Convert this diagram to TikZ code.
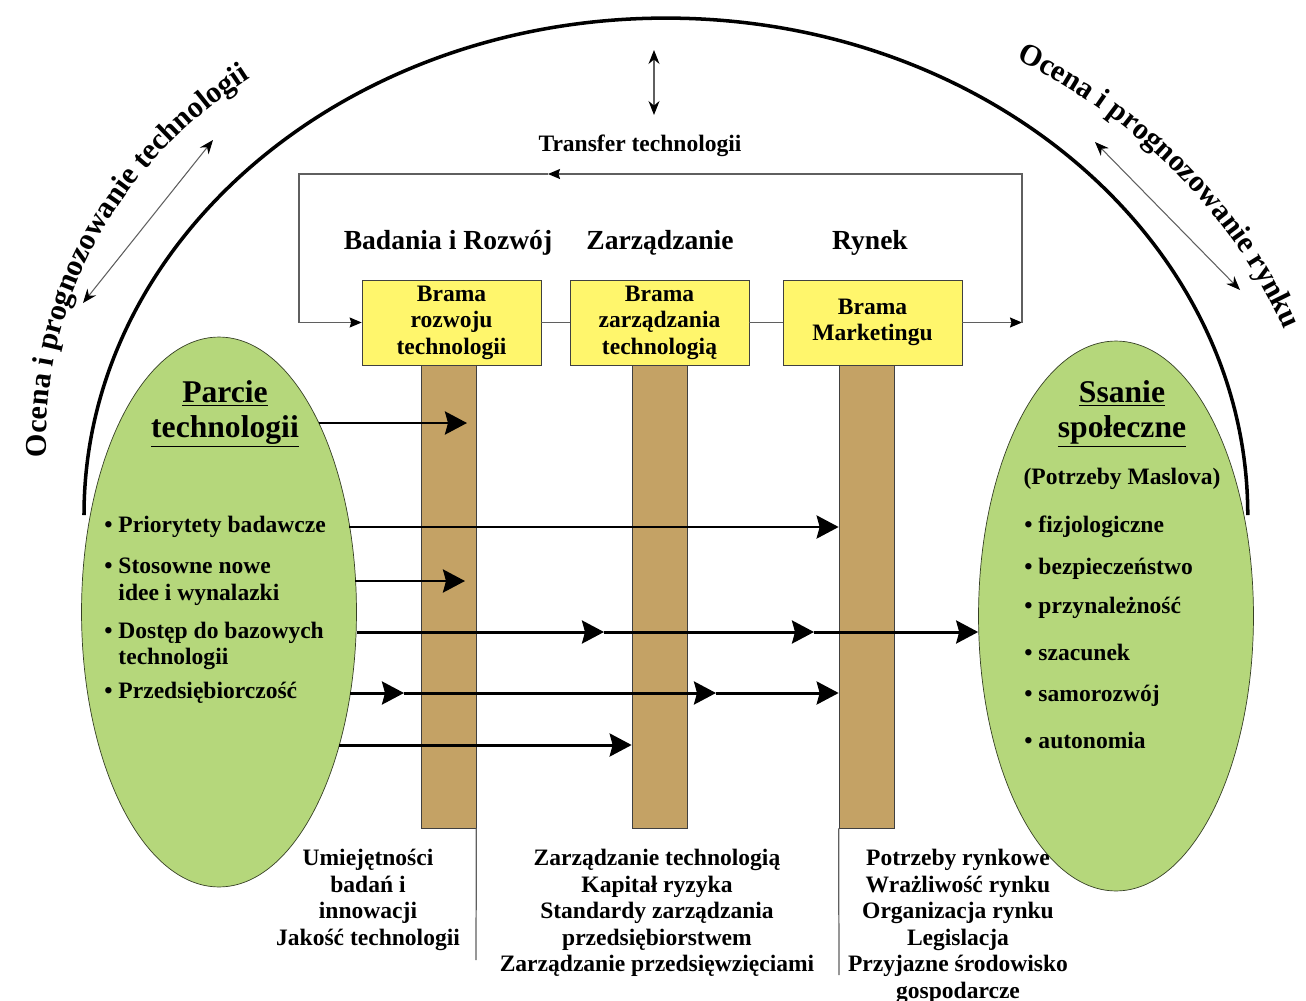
\documentclass[tikz,border=0pt]{standalone}
\usepackage{fontspec}
\setmainfont{Liberation Serif}
\usetikzlibrary{arrows.meta,shapes.geometric,decorations.text}

\definecolor{pushgreen}{RGB}{181,215,123}
\definecolor{gateyellow}{RGB}{255,246,108}
\definecolor{barbrown}{RGB}{196,162,101}
\definecolor{linegray}{RGB}{95,95,95}

\newcommand\bodyfont{\fontsize{13.4}{15.1}\selectfont\bfseries}
\newcommand\headfont{\fontsize{15.7}{18}\selectfont\bfseries}
\newcommand\titlefont{\fontsize{18}{19.8}\selectfont\bfseries}
\newcommand\arcfont{\fontsize{17.2}{19}\selectfont\bfseries}
\newcommand\bull{\textbullet}

\tikzset{
  gate/.style={draw=black!75, fill=gateyellow, minimum width=3.58cm, minimum height=1.7cm, inner sep=0pt, align=center, font=\bodyfont},
  bar/.style={draw=black!75, fill=barbrown, minimum width=1.1cm, minimum height=9.26cm, inner sep=0pt},
  field/.style={ellipse, draw=black!70!pushgreen, fill=pushgreen, minimum width=5.5cm, minimum height=11cm, inner sep=0pt},
  item/.style={anchor=west, align=left, font=\bodyfont, inner sep=0pt},
  colnote/.style={anchor=north, align=center, font=\bodyfont, inner sep=0pt},
  flow/.style={line width=1.7pt, -{Stealth[length=0.44cm, width=0.46cm, inset=0.06cm]}},
  loopline/.style={draw=linegray, line width=0.7pt},
  looptip/.style={-{Stealth[length=0.24cm, width=0.2cm, inset=0.03cm, color=black]}},
  twoway/.style={draw=linegray, line width=0.6pt, {Stealth[length=0.28cm, width=0.22cm, color=black]}-{Stealth[length=0.28cm, width=0.22cm, color=black]}}
}

\begin{document}
\begin{tikzpicture}[x=0.02cm, y=-0.02cm]
\useasboundingbox (0,0) rectangle (1306,1001);

\draw[line width=2pt] (84,515) arc[start angle=180, end angle=0, x radius=11.64cm, y radius=9.94cm];
\path[decorate, decoration={text along path, text align=left, text={|\arcfont|Ocena i prognozowanie technologii}}]
  (47,457) .. controls (40,290) and (130,140) .. (290,55) -- (320,40);
\path[decorate, decoration={text along path, text align=left, text={|\arcfont|Ocena i prognozowanie rynku}}]
  (1016,60) .. controls (1128,112) and (1240,215) .. (1290,345) -- (1297,362);

\coordinate (tu) at (654,50);
\coordinate (td) at (654,115);
\coordinate (la) at (83,303);
\coordinate (lz) at (213,140);
\coordinate (ra) at (1095,142);
\coordinate (rz) at (1240,290);
\draw[twoway] (tu) -- (td);
\draw[twoway] (la) -- (lz);
\draw[twoway] (ra) -- (rz);

\node[font=\bodyfont] (transfer) at (640,146) {Transfer technologii};
\node[font=\headfont] (hbr) at (448,243) {Badania i Rozwój};
\node[font=\headfont] (hzr) at (660,243) {Zarządzanie};
\node[font=\headfont] (hry) at (870,243) {Rynek};

\node[bar] (b1) at (448.5,596.5) {};
\node[bar] (b2) at (659.5,596.5) {};
\node[bar] (b3) at (866.5,596.5) {};
\node[gate] (g1) at (451.5,322.5) {Brama\\rozwoju\\technologii};
\node[gate] (g2) at (659.5,322.5) {Brama\\zarządzania\\technologią};
\node[gate] (g3) at (872.5,322.5) {Brama\\Marketingu};

\coordinate (lt) at (299,174);
\coordinate (lb) at (299,322.5);
\coordinate (rt) at (1022,174);
\coordinate (rb) at (1022,322.5);
\coordinate (tmid) at (548,174);
\draw[loopline] (g1) -- (g2);
\draw[loopline] (g2) -- (g3);
\draw[loopline, looptip] (g3) -- (rb);
\draw[loopline, looptip] (rb) -- (rt) -- (tmid);
\draw[loopline] (tmid) -- (lt) -- (lb);
\draw[loopline, looptip] (lb) -- (g1);

\coordinate (s1) at (476,960);
\coordinate (s3) at (839,975);
\draw[loopline] (b1.south east) -- (s1);
\draw[loopline] (b3.south west) -- (s3);

\node[field] (parcie) at (219,612) {};
\node[field] (ssanie) at (1116,616) {};

\node[font=\titlefont, align=center] (ptitle) at (225,414) {\underline{Parcie}\\\underline{technologii}};
\node[item] (pi1) at (104,527) {\bull\ Priorytety badawcze};
\node[item] (pi2) at (104,582) {\bull\ Stosowne nowe\\\phantom{\bull\ }idee i wynalazki};
\node[item] (pi3) at (104,646) {\bull\ Dostęp do bazowych\\\phantom{\bull\ }technologii};
\node[item] (pi4) at (104,693) {\bull\ Przedsiębiorczość};

\node[font=\titlefont, align=center] (stitle) at (1122,414) {\underline{Ssanie}\\\underline{społeczne}};
\node[font=\bodyfont] (maslow) at (1122,479) {(Potrzeby Maslova)};
\foreach \txt/\yy [count=\i] in {fizjologiczne/527, bezpieczeństwo/569, przynależność/608, szacunek/652, samorozwój/696, autonomia/740}
{   \node[item] (si\i) at (1024,\yy) {\bull\ \txt};
}

\coordinate (f0) at (319,423);
\coordinate (f0t) at (467,423);
\coordinate (f1) at (349,527);
\coordinate (f2) at (355,581);
\coordinate (f2t) at (465,581);
\coordinate (f3) at (357,632);
\coordinate (f3a) at (604,632);
\coordinate (f3b) at (814,632);
\coordinate (f4) at (350,693);
\coordinate (f4a) at (404,693);
\coordinate (f4b) at (716,693);
\coordinate (f5) at (339,745);
\draw[flow] (f0) -- (f0t);
\draw[flow] (f1) -- (b3.west |- f1);
\draw[flow] (f2) -- (f2t);
\draw[flow] (f3) -- (f3a);
\draw[flow] (f3a) -- (f3b);
\draw[flow] (f3b) -- (ssanie.west |- f3);
\draw[flow] (f4) -- (f4a);
\draw[flow] (f4a) -- (f4b);
\draw[flow] (f4b) -- (b3.west |- f4);
\draw[flow] (f5) -- (b2.west |- f5);

\node[colnote] (n1) at (368,849) {Umiejętności\\badań i\\innowacji\\Jakość technologii};
\node[colnote] (n2) at (657,849) {Zarządzanie technologią\\Kapitał ryzyka\\Standardy zarządzania\\przedsiębiorstwem\\Zarządzanie przedsięwzięciami};
\node[colnote] (n3) at (958,849) {Potrzeby rynkowe\\Wrażliwość rynku\\Organizacja rynku\\Legislacja\\Przyjazne środowisko\\gospodarcze};
\end{tikzpicture}
\end{document}
